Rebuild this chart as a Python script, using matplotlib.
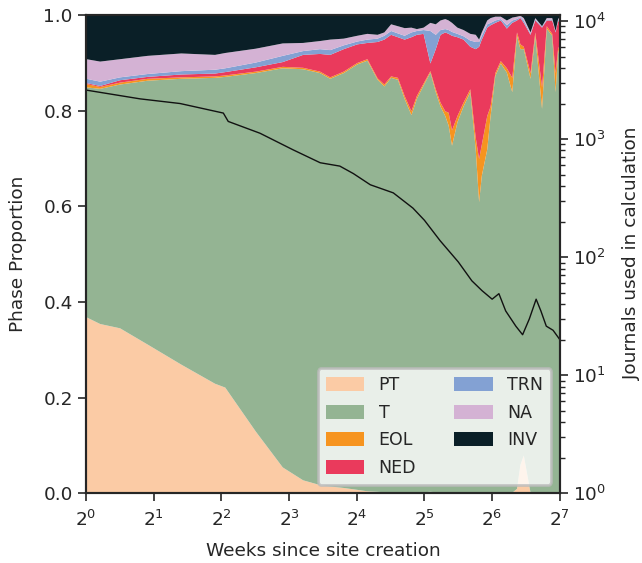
import numpy as np
import matplotlib
matplotlib.use("Agg")
import matplotlib.pyplot as plt
import seaborn as sns

# weeks since site creation (sample points)
weeks = [1.0, 1.15, 1.41, 1.87, 2.64, 3.73, 4.14, 5.66, 7.46, 9.19, 10.93, 12.13,
         13.93, 16.0, 17.75, 19.70, 21.11, 22.63, 24.25, 25.99, 27.86, 29.45, 31.56,
         33.83, 35.75, 37.53, 39.40, 40.79, 42.22, 44.63, 47.50, 50.91, 53.82, 55.72,
         57.28, 60.55, 62.68, 65.80, 69.55, 74.03, 78.25, 82.14, 85.04, 88.03, 94.35,
         99.04, 106.15, 111.43, 117.78, 121.94, 125.37, 128.0]

# upper edge of each phase band (cumulative proportion)
pt_top = [.369, .355, .346, .312, .270, .230, .222, .130, .055, .028, .018, .015,
          .012, .008, .005, .004, .003, .003, .002, .003, .002, .002, .003,
          .004, .003, .002, .003, .002, .003, .002, .003, .003, .002, .003,
          .002, .003, .002, .003, .002, .003, .002, .010, .060, .080, .002,
          .002, .002, .002, .002, .002, .002, .002]
t_top = [.850, .847, .856, .864, .868, .870, .872, .880, .890, .888, .880, .868,
         .880, .898, .906, .866, .852, .870, .866, .826, .792, .826, .854,
         .881, .840, .810, .790, .770, .728, .777, .810, .840, .720, .610,
         .665, .720, .790, .874, .900, .881, .840, .958, .930, .930, .868,
         .958, .805, .973, .958, .840, .930, .900]
eol_top = [.857, .851, .860, .868, .871, .873, .875, .883, .893, .891, .883, .871,
           .883, .901, .909, .869, .856, .873, .870, .832, .800, .832, .858,
           .884, .846, .818, .800, .797, .760, .790, .818, .846, .745, .700,
           .730, .790, .810, .880, .905, .890, .870, .965, .940, .935, .880,
           .965, .850, .978, .962, .880, .935, .920]
ned_top = [.859, .853, .865, .872, .877, .879, .882, .892, .903, .918, .920, .918,
           .930, .940, .943, .945, .950, .960, .955, .950, .955, .960, .962,
           .900, .930, .960, .965, .962, .958, .955, .950, .935, .930, .935,
           .950, .975, .980, .985, .990, .973, .985, .990, .995, .985, .960,
           .990, .975, .990, .990, .965, .990, .980]
trn_top = [.868, .862, .871, .878, .884, .887, .890, .902, .916, .926, .930, .928,
           .938, .946, .950, .952, .958, .968, .963, .958, .965, .968, .970,
           .968, .960, .970, .972, .970, .966, .962, .957, .948, .945, .945,
           .958, .982, .985, .990, .993, .980, .990, .993, .997, .990, .962,
           .992, .977, .992, .992, .967, .992, .985]
na_top = [.909, .904, .909, .916, .921, .918, .922, .931, .942, .943, .947, .950,
          .952, .958, .962, .960, .965, .982, .978, .974, .975, .972, .975,
          .985, .982, .990, .993, .990, .985, .975, .970, .962, .960, .950,
          .965, .990, .995, .998, .998, .990, .996, .998, 1.0, .995, .965,
          .995, .978, .995, .995, .968, .995, .990]

phases = ['PT', 'T', 'EOL', 'NED', 'TRN', 'NA', 'INV']
colors = ['#fbcba5', '#94b493', '#f6941f', '#ea3a5c', '#83a1d3', '#d4b2d4', '#0a1f27']

# journals used in calculation
line_weeks = [1.0, 1.74, 2.62, 4.08, 4.29, 5.94, 8.34, 11.0, 13.45, 15.45, 18.38,
              23.26, 28.44, 32.0, 37.53, 45.25, 51.98, 57.68, 64.0, 68.59, 73.52,
              81.57, 87.43, 93.70, 100.43, 105.42, 111.43, 119.43, 128.0]
journals = [2600, 2190, 2000, 1660, 1410, 1120, 810, 630, 590, 510, 410,
            350, 260, 205, 138, 91, 63, 52, 44, 49, 35,
            26, 22, 30, 44, 35, 26, 24, 20]

tops = np.array([pt_top, t_top, eol_top, ned_top, trn_top, na_top, np.ones(len(weeks))])
shares = np.diff(np.vstack([np.zeros(len(weeks)), tops]), axis=0)

sns.set_style('ticks')
plt.rcParams['font.family'] = ['DejaVu Sans']
fs = 13.3
fig = plt.figure(figsize=(6.42, 5.63), dpi=100)
ax = fig.add_axes([0.134, 0.124, 0.738, 0.849])
ax.stackplot(weeks, shares, labels=phases, colors=colors, linewidth=0)
ax.set_xscale('log', base=2)
ax.set_xlim(1, 128)
ax.set_ylim(0, 1)
ax.set_xticks([2 ** i for i in range(8)])
ax.set_xlabel('Weeks since site creation', fontsize=fs, labelpad=9)
ax.set_ylabel('Phase Proportion', fontsize=fs, labelpad=12)
ax.tick_params(labelsize=fs, length=6, width=1.2)
ax.tick_params(axis='x', pad=6)
for s in ax.spines.values():
    s.set_linewidth(1.5)

ax2 = ax.twinx()
ax2.plot(line_weeks, journals, color='#111111', lw=1)
ax2.set_yscale('log')
ax2.set_ylim(1, 1.12e4)
ax2.set_ylabel('Journals used in calculation', fontsize=fs, labelpad=12)
ax2.tick_params(labelsize=fs, length=6, width=1.2)
ax2.tick_params(which='minor', length=3.5, width=1)
for s in ax2.spines.values():
    s.set_linewidth(1.5)

h, l = ax.get_legend_handles_labels()
leg = ax2.legend(h, l, loc='lower right', ncol=2, fontsize=12.5, frameon=True,
                 handlelength=2.2, handleheight=0.85, handletextpad=0.85,
                 columnspacing=2.2, borderpad=0.45, labelspacing=0.55)
leg.get_frame().set_edgecolor('#bbbbbb')
leg.get_frame().set_linewidth(2)
leg.get_frame().set_alpha(0.8)

fig.savefig('out.png', dpi=100)
